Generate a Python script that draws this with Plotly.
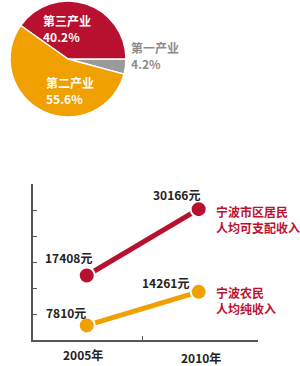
import plotly.graph_objects as go

# Pie data
pie_labels = ["第一产业", "第三产业", "第二产业"]
pie_values = [4.2, 40.2, 55.6]
pie_colors = ["#9a9a9a", "#b8102f", "#f0a000"]

# Line data
years = ["2005年", "2010年"]
x_pos = [0, 1]
urban = [17408, 30166]
rural = [7810, 14261]
urban_name = "宁波市区居民<br>人均可支配收入"
rural_name = "宁波农民<br>人均纯收入"

RED = "#b8102f"
ORANGE = "#f0a000"
FONT = "Noto Sans CJK SC"

W, H = 300, 366
def px(x):
    return x / W
def py(y):
    return 1 - y / H

fig = go.Figure()

fig.add_trace(go.Pie(
    labels=pie_labels, values=pie_values, sort=False, direction="counterclockwise",
    rotation=90, textinfo="none", hoverinfo="label+percent",
    marker=dict(colors=pie_colors, line=dict(color="white", width=1.5)),
    domain=dict(x=[px(10), px(126)], y=[py(117), py(1)]),
    showlegend=False,
))

for vals, col in [(urban, RED), (rural, ORANGE)]:
    fig.add_trace(go.Scatter(
        x=x_pos, y=vals, mode="lines+markers",
        line=dict(color=col, width=5),
        marker=dict(color=col, size=16, line=dict(color="white", width=2)),
        showlegend=False, xaxis="x", yaxis="y",
    ))

annotations = []
# pie labels
annotations.append(dict(x=px(41), y=py(10), xref="paper", yref="paper", xanchor="left", yanchor="top",
                        text="<b>第三产业<br>40.2%</b>", showarrow=False, align="left",
                        font=dict(family=FONT, size=12, color="white")))
annotations.append(dict(x=px(44), y=py(72), xref="paper", yref="paper", xanchor="left", yanchor="top",
                        text="<b>第二产业<br>55.6%</b>", showarrow=False, align="left",
                        font=dict(family=FONT, size=12, color="white")))
annotations.append(dict(x=px(129), y=py(37), xref="paper", yref="paper", xanchor="left", yanchor="top",
                        text="<b>第一产业<br>4.2%</b>", showarrow=False, align="left",
                        font=dict(family=FONT, size=12, color="#8c8c8c")))

# value labels
for xi, v, dx, dy in [(0, urban[0], -18, 18), (1, urban[1], -22, 15), (0, rural[0], -21, 13), (1, rural[1], -33, 9)]:
    annotations.append(dict(x=x_pos[xi], y=v, xref="x", yref="y", text=f"<b>{v}元</b>",
                            showarrow=False, xshift=dx, yshift=dy,
                            font=dict(family=FONT, size=12, color="#222222")))

# series labels
annotations.append(dict(x=px(214), y=py(201), xref="paper", yref="paper", xanchor="left", yanchor="top",
                        text="<b>" + urban_name + "</b>", showarrow=False, align="left",
                        font=dict(family=FONT, size=12, color="#c0102f")))
annotations.append(dict(x=px(214), y=py(282), xref="paper", yref="paper", xanchor="left", yanchor="top",
                        text="<b>" + rural_name + "</b>", showarrow=False, align="left",
                        font=dict(family=FONT, size=12, color="#c0102f")))

# x labels
for xi, yr, ypix in [(0, years[0], 354), (1, years[1], 357)]:
    annotations.append(dict(x=x_pos[xi], y=py(ypix), xref="x", yref="paper", text=f"<b>{yr}</b>",
                            showarrow=False, xanchor="center", yanchor="middle",
                            xshift=-4 if xi == 0 else 2,
                            font=dict(family=FONT, size=12, color="#222222")))

fig.update_layout(
    width=W, height=H, margin=dict(l=0, r=0, t=0, b=0),
    paper_bgcolor="white", plot_bgcolor="white",
    xaxis=dict(domain=[px(33), px(258)], range=[-0.48, 1.53], showgrid=False, zeroline=False,
               showline=True, linecolor="#555555", linewidth=1.5,
               tickvals=[0.5], ticks="inside", ticklen=4, tickcolor="#555555", showticklabels=False),
    yaxis=dict(domain=[py(340), py(184)], range=[5000, 35000], showgrid=False, zeroline=False,
               showline=True, linecolor="#555555", linewidth=1.5,
               tickvals=[10000, 15000, 20000, 25000, 30000, 35000], ticks="inside", ticklen=4,
               tickcolor="#555555", showticklabels=False),
    annotations=annotations,
)

fig.write_html("out.html")
